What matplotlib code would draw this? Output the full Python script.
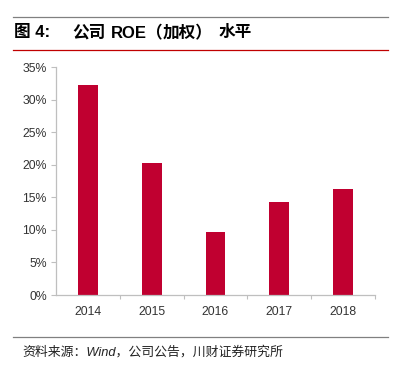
import matplotlib
matplotlib.use("Agg")
import matplotlib.pyplot as plt
from matplotlib.lines import Line2D
from matplotlib.ticker import FuncFormatter

years = ['2014', '2015', '2016', '2017', '2018']
roe = [32.2, 20.3, 9.7, 14.3, 16.3]

plt.rcParams['font.family'] = ['Liberation Sans', 'Noto Sans CJK SC', 'DejaVu Sans']

fig = plt.figure(figsize=(4.02, 3.72), dpi=100)
fig.set_facecolor('white')

W, H = 402.0, 372.0
ax = fig.add_axes([56 / W, 1 - 295 / H, (375 - 56) / W, (295 - 67) / H])

x = range(len(years))
ax.bar(x, roe, width=0.31, color='#C00030', zorder=2)

ax.set_xlim(-0.5, len(years) - 0.5)
ax.set_ylim(0, 35)
ax.set_yticks(range(0, 36, 5))
ax.yaxis.set_major_formatter(FuncFormatter(lambda v, p: '%d%%' % v))
ax.set_xticks(list(x))
ax.set_xticklabels(years)
# category boundary ticks
ax.set_xticks([i + 0.5 for i in x], minor=True)

for s in ['top', 'right']:
    ax.spines[s].set_visible(False)
for s in ['left', 'bottom']:
    ax.spines[s].set_color('#BFBFBF')
    ax.spines[s].set_linewidth(0.9)

ax.tick_params(axis='y', labelsize=8.8, colors='#333333', length=3.5, width=0.8,
               pad=3, color='#BFBFBF')
ax.tick_params(axis='x', which='major', length=0, labelsize=8.8, colors='#333333', pad=8)
ax.tick_params(axis='x', which='minor', length=3, width=0.8, color='#BFBFBF')

# header / footer rules
fig.add_artist(Line2D([13 / W, 388 / W], [1 - 17 / H, 1 - 17 / H], color='#808080', lw=0.9))
fig.add_artist(Line2D([13 / W, 388 / W], [1 - 50 / H, 1 - 50 / H], color='#C00000', lw=0.9))
fig.add_artist(Line2D([13 / W, 388 / W], [1 - 337 / H, 1 - 337 / H], color='#808080', lw=0.9))

# title, in a few pieces (the original is slightly letter-spaced)
fig.text(14 / W, 1 - 33 / H, '图 4:', fontsize=12, weight='bold', va='center', ha='left')
title_parts = [('公司', 72), ('ROE（', 111), ('加权）', 163), ('水平', 219)]
for txt, px in title_parts:
    fig.text(px / W, 1 - 33 / H, txt, fontsize=12, weight='bold', va='center', ha='left')

fig.text(22 / W, 1 - 352 / H, '资料来源：Wind，公司公告，川财证券研究所', fontsize=9.3,
         style='italic', va='center', ha='left', color='#222222')

fig.savefig('out.png', dpi=100)
